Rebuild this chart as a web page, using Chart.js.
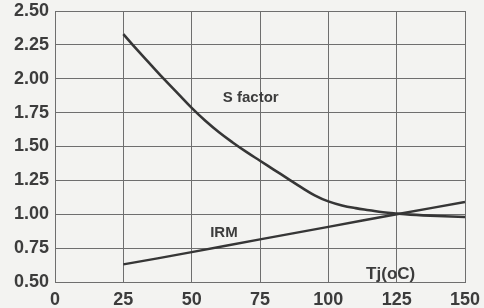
<!DOCTYPE html>
<html>
<head>
<meta charset="utf-8">
<script src="https://cdn.jsdelivr.net/npm/chart.js@4"></script>
<style>
    body { margin: 0; background: #f3f3f1; }
    #wrap { width: 484px; height: 308px; position: relative; }
</style>
</head>
<body>
<div id="wrap"><canvas id="myChart"></canvas></div>
<script>
// temperature points (Tj, oC)
let sFactorTemps = [25, 30, 35, 40, 45, 50, 55, 60, 65, 70, 75, 80, 85, 90, 95, 100, 105, 110, 115, 120, 125, 130, 140, 150]
let sFactorValues = [2.33, 2.215, 2.105, 1.995, 1.89, 1.785, 1.69, 1.605, 1.53, 1.46, 1.395, 1.33, 1.265, 1.20, 1.14, 1.095, 1.065, 1.045, 1.03, 1.015, 1.005, 0.997, 0.987, 0.98]

let irmTemps = [25, 50, 75, 100, 125, 150]
let irmValues = [0.63, 0.72, 0.815, 0.907, 1.00, 1.09]

let xTicks = [0, 25, 50, 75, 100, 125, 150]
let yTicks = [0.50, 0.75, 1.00, 1.25, 1.50, 1.75, 2.00, 2.25, 2.50]

// text placed on the plot, in data units
let curveLabels = [
    { text: 'S factor', x: 71.6, y: 1.86, size: 15 },
    { text: 'IRM', x: 61.8, y: 0.863, size: 15 },
    { text: 'Tj(oC)', x: 122.8, y: 0.56, size: 17 }
]

const lineColor = '#363636'
const gridColor = '#6e6e6e'
const textColor = '#3c3c3c'
const fontFamily = '"Liberation Sans", Arial, sans-serif'

function toPoints(xs, ys) {
    return xs.map((x, i) => ({ x: x, y: ys[i] }))
}

const labelPlugin = {
    id: 'curveLabels',
    afterDatasetsDraw(chart) {
        let ctx = chart.ctx
        let xs = chart.scales.x
        let ys = chart.scales.y
        ctx.save()
        ctx.fillStyle = textColor
        ctx.textAlign = 'center'
        ctx.textBaseline = 'middle'
        curveLabels.forEach(l => {
            ctx.font = 'bold ' + l.size + 'px ' + fontFamily
            ctx.fillText(l.text, xs.getPixelForValue(l.x), ys.getPixelForValue(l.y))
        })
        ctx.restore()
    }
}

let ctx = document.getElementById('myChart').getContext('2d')
let chart = new Chart(ctx, {
    type: 'line',
    data: {
        datasets: [{
            label: 'S factor',
            data: toPoints(sFactorTemps, sFactorValues),
            borderColor: lineColor,
            borderWidth: 2.6,
            pointRadius: 0,
            tension: 0.4,
            fill: false
        }, {
            label: 'IRM',
            data: toPoints(irmTemps, irmValues),
            borderColor: lineColor,
            borderWidth: 2.4,
            pointRadius: 0,
            tension: 0.4,
            fill: false
        }]
    },
    options: {
        responsive: true,
        maintainAspectRatio: false,
        animation: { duration: 0 },
        layout: { padding: { top: 11, right: 19, left: 0, bottom: 0 } },
        plugins: {
            legend: { display: false },
            tooltip: { enabled: false }
        },
        scales: {
            x: {
                type: 'linear',
                min: 0,
                max: 150,
                afterBuildTicks: scale => { scale.ticks = xTicks.map(v => ({ value: v })) },
                afterFit: scale => {
                    scale.height = 26
                    scale.paddingLeft = 0
                    scale.paddingRight = 0
                },
                grid: { color: gridColor, lineWidth: 1, drawTicks: false },
                border: { color: gridColor, width: 1 },
                ticks: {
                    padding: 7,
                    color: textColor,
                    font: { family: fontFamily, size: 18, weight: 'bold' },
                    maxRotation: 0
                }
            },
            y: {
                min: 0.5,
                max: 2.5,
                afterBuildTicks: scale => { scale.ticks = yTicks.map(v => ({ value: v })) },
                afterFit: scale => {
                    scale.width = 55
                    scale.paddingTop = 0
                    scale.paddingBottom = 0
                },
                grid: { color: gridColor, lineWidth: 1, drawTicks: false },
                border: { color: gridColor, width: 1 },
                ticks: {
                    padding: 6,
                    color: textColor,
                    font: { family: fontFamily, size: 18, weight: 'bold' },
                    callback: v => v.toFixed(2)
                }
            }
        }
    },
    plugins: [labelPlugin]
})
</script>
</body>
</html>
